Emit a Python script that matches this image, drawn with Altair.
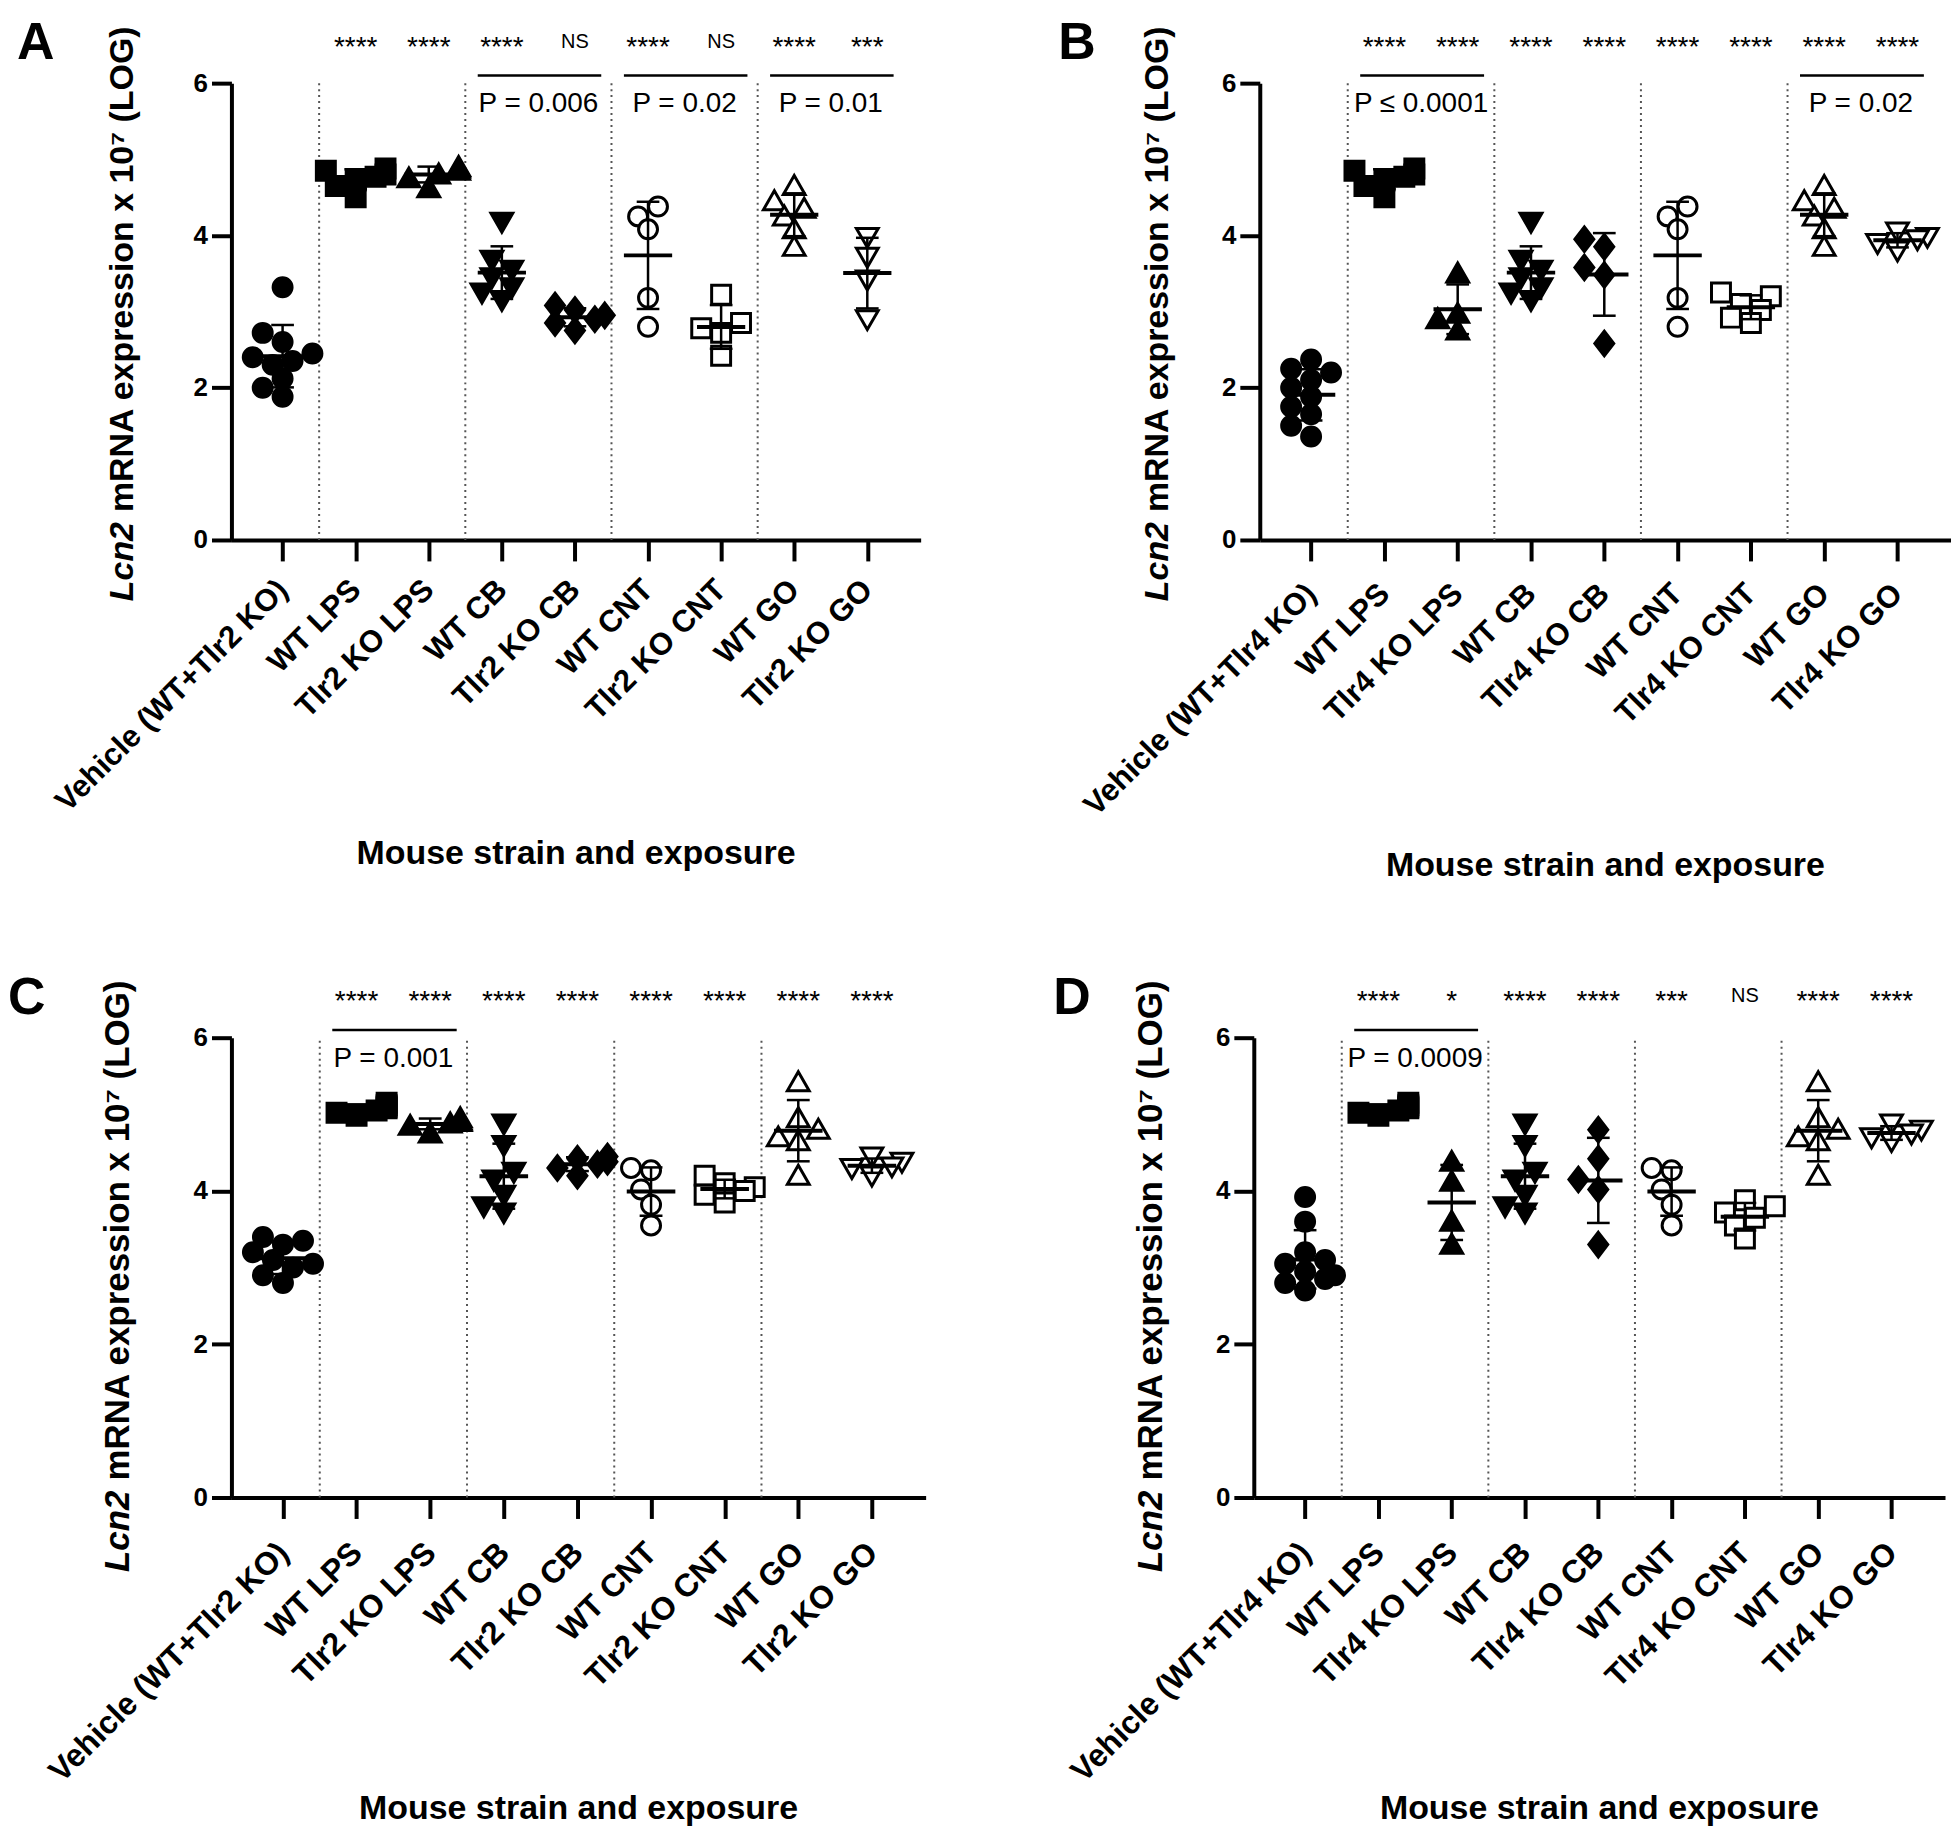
import json
import altair as alt
import numpy as np
import pandas as pd

FONT = "Liberation Sans"

CATS_TLR2 = ["Vehicle (WT+Tlr2 KO)", "WT LPS", "Tlr2 KO LPS", "WT CB", "Tlr2 KO CB",
             "WT CNT", "Tlr2 KO CNT", "WT GO", "Tlr2 KO GO"]
CATS_TLR4 = ["Vehicle (WT+Tlr4 KO)", "WT LPS", "Tlr4 KO LPS", "WT CB", "Tlr4 KO CB",
             "WT CNT", "Tlr4 KO CNT", "WT GO", "Tlr4 KO GO"]

# ---- top row (A, B): shared WT groups
WT_LPS_TOP = [4.88, 4.85, 4.80, 4.77, 4.72, 4.65, 4.50]
WT_CB_TOP = [4.18, 3.68, 3.55, 3.45, 3.32, 3.25, 3.15]
WT_CNT_TOP = [4.38, 4.25, 4.08, 3.18, 2.80]
WT_GO_TOP = [4.65, 4.45, 4.35, 4.25, 4.08, 3.85]

A_VEH = [3.32, 2.72, 2.60, 2.45, 2.40, 2.35, 2.30, 2.12, 2.00, 1.88]
A_KO_LPS = [4.90, 4.88, 4.85, 4.80, 4.75, 4.62]
A_KO_CB = [3.08, 3.02, 2.95, 2.90, 2.85, 2.75]
A_KO_CNT = [3.22, 2.85, 2.78, 2.72, 2.42]
A_KO_GO = [3.98, 3.72, 3.42, 2.90]
A_STARS = ["****", "****", "****", "NS", "****", "NS", "****", "***"]
A_BR_START = [3, 5, 7]
A_PTEXT = ["P = 0.006", "P = 0.02", "P = 0.01"]

B_VEH = [2.37, 2.25, 2.20, 2.10, 2.00, 1.88, 1.75, 1.65, 1.50, 1.36]
B_KO_LPS = [3.50, 2.97, 2.90, 2.75]
B_KO_CB = [3.95, 3.85, 3.58, 3.48, 2.58]
B_KO_CNT = [3.25, 3.20, 3.10, 3.02, 2.92, 2.85]
B_KO_GO = [4.05, 3.98, 3.95, 3.90, 3.80]
B_STARS = ["****"] * 8
B_BR_START = [1, 7]
B_PTEXT = ["P \u2264 0.0001", "P = 0.02"]

# ---- bottom row (C, D): shared WT groups
WT_LPS_BOT = [5.15, 5.12, 5.10, 5.08, 5.05, 5.02, 4.98]
WT_CB_BOT = [4.88, 4.60, 4.25, 4.15, 3.95, 3.80, 3.72]
WT_CNT_BOT = [4.30, 4.27, 4.02, 3.82, 3.55]
WT_GO_BOT = [5.42, 4.95, 4.80, 4.70, 4.65, 4.20]

C_VEH = [3.40, 3.35, 3.30, 3.20, 3.10, 3.05, 3.00, 2.90, 2.80]
C_KO_LPS = [4.95, 4.92, 4.90, 4.88, 4.85, 4.75]
C_KO_CB = [4.45, 4.42, 4.38, 4.35, 4.30, 4.20]
C_KO_CNT = [4.20, 4.10, 4.05, 4.00, 3.95, 3.85]
C_KO_GO = [4.45, 4.38, 4.32, 4.30, 4.20]
C_STARS = ["****"] * 8
C_BR_START = [1]
C_PTEXT = ["P = 0.001"]

D_VEH = [3.92, 3.60, 3.20, 3.10, 3.05, 2.95, 2.90, 2.85, 2.80, 2.70]
D_KO_LPS = [4.38, 4.12, 3.60, 3.30]
D_KO_CB = [4.80, 4.42, 4.15, 4.02, 3.30]
D_KO_CNT = [3.88, 3.80, 3.72, 3.65, 3.55, 3.38]
D_KO_GO = [4.88, 4.80, 4.75, 4.70, 4.65]
D_STARS = ["****", "*", "****", "****", "***", "NS", "****", "****"]
D_BR_START = [1]
D_PTEXT = ["P = 0.0009"]

Y_TICKS = [0, 2, 4, 6]
X_TITLE = "Mouse strain and exposure"

TRI_UP = "M0,-1.1L1.15,0.9L-1.15,0.9Z"
TRI_DOWN = "M0,1.1L1.15,-0.9L-1.15,-0.9Z"
DIAMOND = "M0,-1.3L1,0L0,1.3L-1,0Z"
SHAPES = ["circle", "square", TRI_UP, TRI_DOWN, DIAMOND, "circle", "square", TRI_UP, TRI_DOWN]
FILLS = ["black"] * 5 + ["white"] * 4
XDOM = [-0.7, 8.73]


def swarm(vals, px_x=73.5, px_y=76.5, diam=16.0):
    order = np.argsort(vals)
    placed = []
    offs = [0.0] * len(vals)
    cands = [0, -10, 10, -20, 20, -30, 30]
    for i in order:
        y = vals[i] * px_y
        chosen = cands[-1]
        for c in cands:
            if all((c - px) ** 2 + (y - py) ** 2 >= diam ** 2 for px, py in placed):
                chosen = c
                break
        placed.append((chosen, y))
        offs[i] = chosen / px_x
    return offs


def panel(letter, cats, groups, stars, br_start, ptext, width, height, lab_size, lab_pad,
          letter_dx, top_dy, xtitle_dy, ytitle_x, ytitle_join, ytitle_size):
    label_expr = "[" + ",".join(json.dumps(c) for c in cats) + "][datum.value]"
    xaxis = alt.Axis(values=list(range(len(cats))), labelExpr=label_expr, labelAngle=-45,
                     labelAlign="right", labelBaseline="middle", labelFontSize=lab_size,
                     labelFontWeight="bold", labelPadding=lab_pad, labelOverlap=False,
                     labelFlush=False, labelLimit=1000, labelColor="black", tickSize=21,
                     tickWidth=4, tickColor="black", domainWidth=4, domainColor="black",
                     grid=False, title=None)
    yaxis = alt.Axis(values=Y_TICKS, labelFontSize=26, labelFontWeight="bold", labelPadding=4,
                     labelColor="black", tickSize=20, tickWidth=4, tickColor="black",
                     domainWidth=4, domainColor="black", grid=False, title=None)
    xs = alt.Scale(domain=XDOM, nice=False, zero=False)
    ys = alt.Scale(domain=[0, 6], nice=False, zero=True)

    def X(f):
        return alt.X(f, type="quantitative", scale=xs, axis=xaxis)

    def Y(f):
        return alt.Y(f, type="quantitative", scale=ys, axis=yaxis)

    rows = []
    for i, vals in enumerate(groups):
        for v, o in zip(vals, swarm(vals)):
            rows.append({"idx": i, "value": v, "xj": i + o})
    pts = pd.DataFrame(rows)

    seps = pd.DataFrame({"sep": [g + 0.5 for g in range(0, len(cats) - 1, 2)]})
    sep_layer = alt.Chart(seps).transform_calculate(y0="0", y1="6").mark_rule(
        strokeDash=[2, 4], strokeWidth=2, color="#555555").encode(
        x=X("sep"), y=Y("y0"), y2=alt.Y2("y1"))

    pt_layer = alt.Chart(pts).mark_point(size=361, strokeWidth=3, opacity=1, fillOpacity=1,
                                          strokeOpacity=1, stroke="black").encode(
        x=X("xj"), y=Y("value"),
        shape=alt.Shape("idx:N", scale=alt.Scale(domain=list(range(9)), range=SHAPES), legend=None),
        fill=alt.Fill("idx:N", scale=alt.Scale(domain=list(range(9)), range=FILLS), legend=None))

    stats = alt.Chart(pts).transform_aggregate(
        mean="mean(value)", sd="stdev(value)", groupby=["idx"]).transform_calculate(
        xl="datum.idx - 0.33", xr="datum.idx + 0.33",
        cl="datum.idx - 0.155", cr="datum.idx + 0.155",
        lo="datum.mean - datum.sd", hi="datum.mean + datum.sd")
    mean_layer = stats.mark_rule(strokeWidth=4, color="black").encode(
        x=X("xl"), x2=alt.X2("xr"), y=Y("mean"))
    sd_layer = stats.mark_rule(strokeWidth=2.5, color="black").encode(
        x=X("idx"), y=Y("lo"), y2=alt.Y2("hi"))
    caphi = stats.mark_rule(strokeWidth=2.5, color="black").encode(
        x=X("cl"), x2=alt.X2("cr"), y=Y("hi"))
    caplo = stats.mark_rule(strokeWidth=2.5, color="black").encode(
        x=X("cl"), x2=alt.X2("cr"), y=Y("lo"))

    sdf = pd.DataFrame({"idx": list(range(1, len(stars) + 1)), "label": stars})
    star_layer = alt.Chart(sdf).transform_filter("datum.label != 'NS'").transform_calculate(
        ys="6.36").mark_text(font=FONT, fontSize=28, baseline="alphabetic", align="center",
                             color="black").encode(x=X("idx"), y=Y("ys"), text="label:N")
    ns_layer = alt.Chart(sdf).transform_filter("datum.label == 'NS'").transform_calculate(
        ys="6.46").mark_text(font=FONT, fontSize=20, baseline="alphabetic", align="center",
                             color="black").encode(x=X("idx"), y=Y("ys"), text="label:N")

    bdf = pd.DataFrame({"start": br_start, "ptext": ptext})
    bbase = alt.Chart(bdf).transform_calculate(
        bl="datum.start - 0.33", br="datum.start + 1.36", mid="datum.start + 0.5",
        yb="6.1", yp="5.62")
    br_layer = bbase.mark_rule(strokeWidth=2.5, color="black").encode(
        x=X("bl"), x2=alt.X2("br"), y=Y("yb"))
    p_layer = bbase.mark_text(font=FONT, fontSize=28, baseline="alphabetic", align="center",
                              color="black").encode(x=X("mid"), y=Y("yp"), text="ptext:N")

    # invisible (white) hairline that fixes the top extent of the panel
    top_layer = alt.Chart(pd.DataFrame({"t": [0]})).mark_rule(color="white", strokeWidth=1).encode(
        x=alt.value(0), x2=alt.value(2), y=alt.value(top_dy))
    let_layer = alt.Chart(pd.DataFrame({"t": [letter]})).mark_text(
        font=FONT, fontSize=52, fontWeight="bold", align="left", baseline="alphabetic",
        color="black").encode(text="t:N", x=alt.value(letter_dx), y=alt.value(-24))
    yt1 = alt.Chart(pd.DataFrame({"t": ["Lcn2"]})).mark_text(
        font=FONT, fontSize=ytitle_size, fontWeight="bold", fontStyle="italic", angle=270,
        align="right", baseline="alphabetic", color="black").encode(
        text="t:N", x=alt.value(ytitle_x), y=alt.value(ytitle_join))
    yt2 = alt.Chart(pd.DataFrame({"t": ["mRNA expression x 10\u2077 (LOG)"]})).mark_text(
        font=FONT, fontSize=ytitle_size, fontWeight="bold", angle=270,
        align="left", baseline="alphabetic", color="black").encode(
        text="t:N", x=alt.value(ytitle_x), y=alt.value(ytitle_join - 10))
    xt = alt.Chart(pd.DataFrame({"t": [X_TITLE]})).mark_text(
        font=FONT, fontSize=34, fontWeight="bold", align="center", baseline="alphabetic",
        color="black").encode(text="t:N", x=alt.value(width / 2), y=alt.value(height + xtitle_dy))

    return alt.layer(sep_layer, pt_layer, mean_layer, sd_layer, caphi, caplo,
                     star_layer, ns_layer, br_layer, p_layer, top_layer, let_layer,
                     yt1, yt2, xt).properties(width=width, height=height)


pA = panel("A", CATS_TLR2,
           [A_VEH, WT_LPS_TOP, A_KO_LPS, WT_CB_TOP, A_KO_CB, WT_CNT_TOP, A_KO_CNT, WT_GO_TOP, A_KO_GO],
           A_STARS, A_BR_START, A_PTEXT, 691, 458, 31, 24, -215, -72, 325, -99, 440, 34)
pB = panel("B", CATS_TLR4,
           [B_VEH, WT_LPS_TOP, B_KO_LPS, WT_CB_TOP, B_KO_CB, WT_CNT_TOP, B_KO_CNT, WT_GO_TOP, B_KO_GO],
           B_STARS, B_BR_START, B_PTEXT, 693, 458, 31, 28, -202, -72, 337, -92, 440, 34)
pC = panel("C", CATS_TLR2,
           [C_VEH, WT_LPS_BOT, C_KO_LPS, WT_CB_BOT, C_KO_CB, WT_CNT_BOT, C_KO_CNT, WT_GO_BOT, C_KO_GO],
           C_STARS, C_BR_START, C_PTEXT, 696, 461, 32, 29, -224, -74, 322, -103, 454, 35)
pD = panel("D", CATS_TLR4,
           [D_VEH, WT_LPS_BOT, D_KO_LPS, WT_CB_BOT, D_KO_CB, WT_CNT_BOT, D_KO_CNT, WT_GO_BOT, D_KO_GO],
           D_STARS, D_BR_START, D_PTEXT, 693, 461, 32, 29, -201, -74, 322, -92, 454, 35)

row1 = alt.hconcat(pA, pB, spacing=138)
row2 = alt.hconcat(pC, pD, spacing=128)
chart = alt.vconcat(row1, row2, spacing=80).properties(padding=0).configure(
    font=FONT).configure_view(strokeWidth=0)

chart.save("out.html", embed_options={"renderer": "svg", "actions": False})
